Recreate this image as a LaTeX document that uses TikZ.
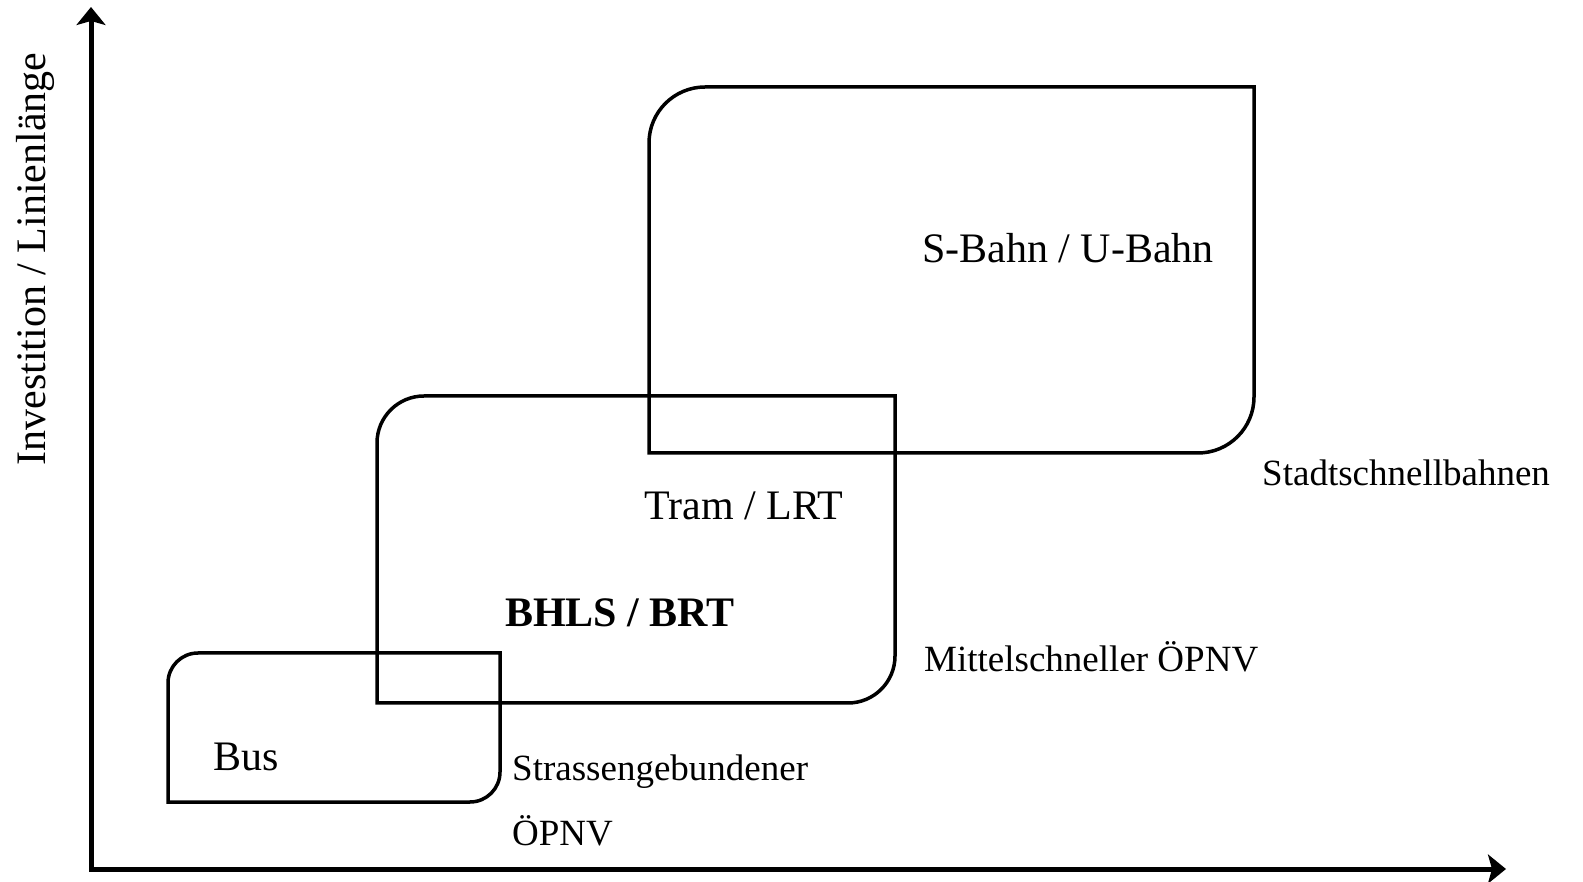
\documentclass[tikz,border=0pt]{standalone}
\usepackage{fontspec}
\setmainfont{Liberation Serif}
\usetikzlibrary{arrows.meta}
\begin{document}
\begin{tikzpicture}[x=1bp,y=1bp,
  axisline/.style={line width=5bp,line join=miter,{Stealth[length=18bp,width=29bp,inset=4bp]}-{Stealth[length=18bp,width=29bp,inset=4bp]}},
  boxline/.style={line width=3.5bp,line join=miter},
  biglabel/.style={inner sep=0pt,anchor=base west,font=\fontsize{42bp}{50bp}\selectfont},
  smalllabel/.style={inner sep=0pt,anchor=base west,font=\fontsize{37bp}{44bp}\selectfont}]
\useasboundingbox (0,0) rectangle (1583,881);
% axes
\coordinate (ytip) at (91,874);
\coordinate (xtip) at (1506,12);
\draw[axisline] (ytip) |- (xtip);
% Bus box
\draw[boxline] (168,79) coordinate (busBL) -- (168,198) arc[start angle=180,end angle=90,radius=30] -- (500,228) -- (500,109) arc[start angle=0,end angle=-90,radius=30] -- cycle;
% middle box
\draw[boxline] (377,178) coordinate (midBL) -- (377,438) arc[start angle=180,end angle=90,radius=47] -- (895,485) -- (895,225) arc[start angle=0,end angle=-90,radius=47] -- cycle;
% large box
\draw[boxline] (649,428) coordinate (bigBL) -- (649,738) arc[start angle=180,end angle=90,radius=56] -- (1254,794) -- (1254,484) arc[start angle=0,end angle=-90,radius=56] -- cycle;
% labels
\node[biglabel] (sbahn) at (922,618) {S-Bahn / U-Bahn};
\node[smalllabel] (stadt) at (1262,395) {Stadtschnellbahnen};
\node[biglabel] (tram) at (644,361) {Tram / LRT};
\node[biglabel,font=\fontsize{42bp}{50bp}\selectfont\bfseries] (bhls) at (505,254) {BHLS / BRT};
\node[smalllabel] (mittel) at (924,209) {Mittelschneller ÖPNV};
\node[biglabel] (bus) at (213,110) {Bus};
\node[smalllabel] (strasse) at (512,100) {Strassengebundener};
\node[smalllabel] (oepnv) at (512,36) {ÖPNV};
\node[inner sep=0pt,anchor=base,rotate=90,font=\fontsize{42bp}{50bp}\selectfont] (yl) at (45,622) {Investition / Linienlänge};
\end{tikzpicture}
\end{document}
